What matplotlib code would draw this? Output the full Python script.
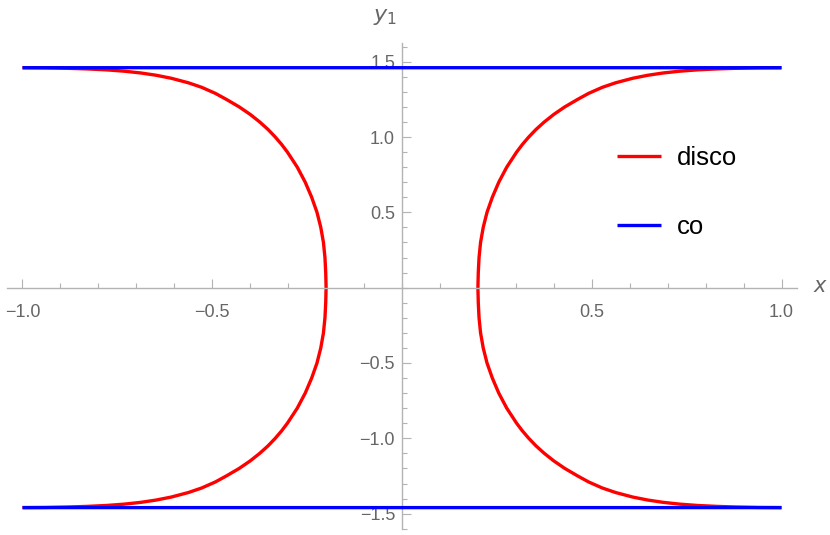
import numpy as np
import matplotlib.pyplot as plt

plt.rcParams['font.family'] = ['Liberation Sans', 'DejaVu Sans']

# curva "disco" (un quadrante, poi simmetrica)
disco_y = [0.00, 0.10, 0.20, 0.30, 0.40, 0.50, 0.60, 0.70, 0.80, 0.90,
           0.95, 1.00, 1.05, 1.10, 1.15, 1.20, 1.25, 1.29, 1.33, 1.36,
           1.39, 1.41, 1.425, 1.437, 1.446, 1.452, 1.456, 1.459, 1.460]
disco_x = [0.200, 0.201, 0.203, 0.207, 0.214, 0.224, 0.238, 0.255, 0.276, 0.302,
           0.317, 0.334, 0.353, 0.375, 0.400, 0.429, 0.463, 0.492, 0.528, 0.563,
           0.608, 0.648, 0.688, 0.732, 0.780, 0.830, 0.880, 0.940, 1.000]

# linee "co"
co_x = [-1.0, 1.0]
co_level = 1.46

x_ticks = [-1.0, -0.5, 0.5, 1.0]
y_ticks = [-1.5, -1.0, -0.5, 0.5, 1.0, 1.5]

dx = np.array(disco_x)
dy = np.array(disco_y)
# ramo destro: dal basso verso l'alto
right_x = np.concatenate([dx[::-1], dx[1:]])
right_y = np.concatenate([-dy[::-1], dy[1:]])

fig = plt.figure(figsize=(8.3, 5.35), dpi=100)
ax = fig.add_axes([7.3 / 830, 1 - 529.3 / 535, (796.7 - 7.3) / 830, (529.3 - 43) / 535])

ax.plot(right_x, right_y, color='#ff0000', lw=2.4, label='disco', zorder=2,
        solid_capstyle='butt')
ax.plot(-right_x, right_y, color='#ff0000', lw=2.4, zorder=2, solid_capstyle='butt')
ax.plot(co_x, [co_level, co_level], color='#0000ff', lw=2.4, label='co',
        solid_capstyle='butt', zorder=3, snap=False)
ax.plot(co_x, [-co_level, -co_level], color='#0000ff', lw=2.4,
        solid_capstyle='butt', zorder=3, snap=False)

ax.set_xlim(-1.04, 1.04)
ax.set_ylim(-1.604, 1.624)

gray = '#b3b3b3'
for s in ['top', 'right']:
    ax.spines[s].set_visible(False)
ax.spines['left'].set_position(('data', 0))
ax.spines['bottom'].set_position(('data', 0))
ax.spines['left'].set_color(gray)
ax.spines['bottom'].set_color(gray)
ax.spines['left'].set_linewidth(1.0)
ax.spines['bottom'].set_linewidth(1.0)

ax.set_xticks(x_ticks)
ax.set_yticks(y_ticks)
ax.set_xticklabels(['\u22121.0', '\u22120.5', '0.5', '1.0'])
ax.set_yticklabels(['\u22121.5', '\u22121.0', '\u22120.5', '0.5', '1.0', '1.5'])
ax.set_xticks(np.arange(-1.0, 1.01, 0.1), minor=True)
ax.set_yticks(np.arange(-1.6, 1.61, 0.1), minor=True)
ax.tick_params(which='major', direction='in', length=6.3, width=0.8, color=gray,
               labelcolor='#666666', labelsize=13)
ax.tick_params(which='minor', direction='in', length=3.6, width=0.8, color=gray)
ax.tick_params(axis='x', which='major', pad=12)
ax.tick_params(axis='y', which='major', pad=5)

ax.text(1.104, 0.01, '$x$', fontsize=15, color='#666666', ha='center', va='center',
        transform=ax.transData, clip_on=False)
ax.text(-0.045, 1.80, '$y_1$', fontsize=16, color='#666666', ha='center', va='center',
        transform=ax.transData, clip_on=False)

ax.legend(loc='upper left', bbox_to_anchor=(617 / 830, 1 - 146 / 535),
          bbox_transform=fig.transFigure, frameon=False, fontsize=18.5,
          handlelength=1.72, handletextpad=0.6, labelspacing=1.75,
          borderpad=0, borderaxespad=0)

plt.savefig('out.png', dpi=100)
